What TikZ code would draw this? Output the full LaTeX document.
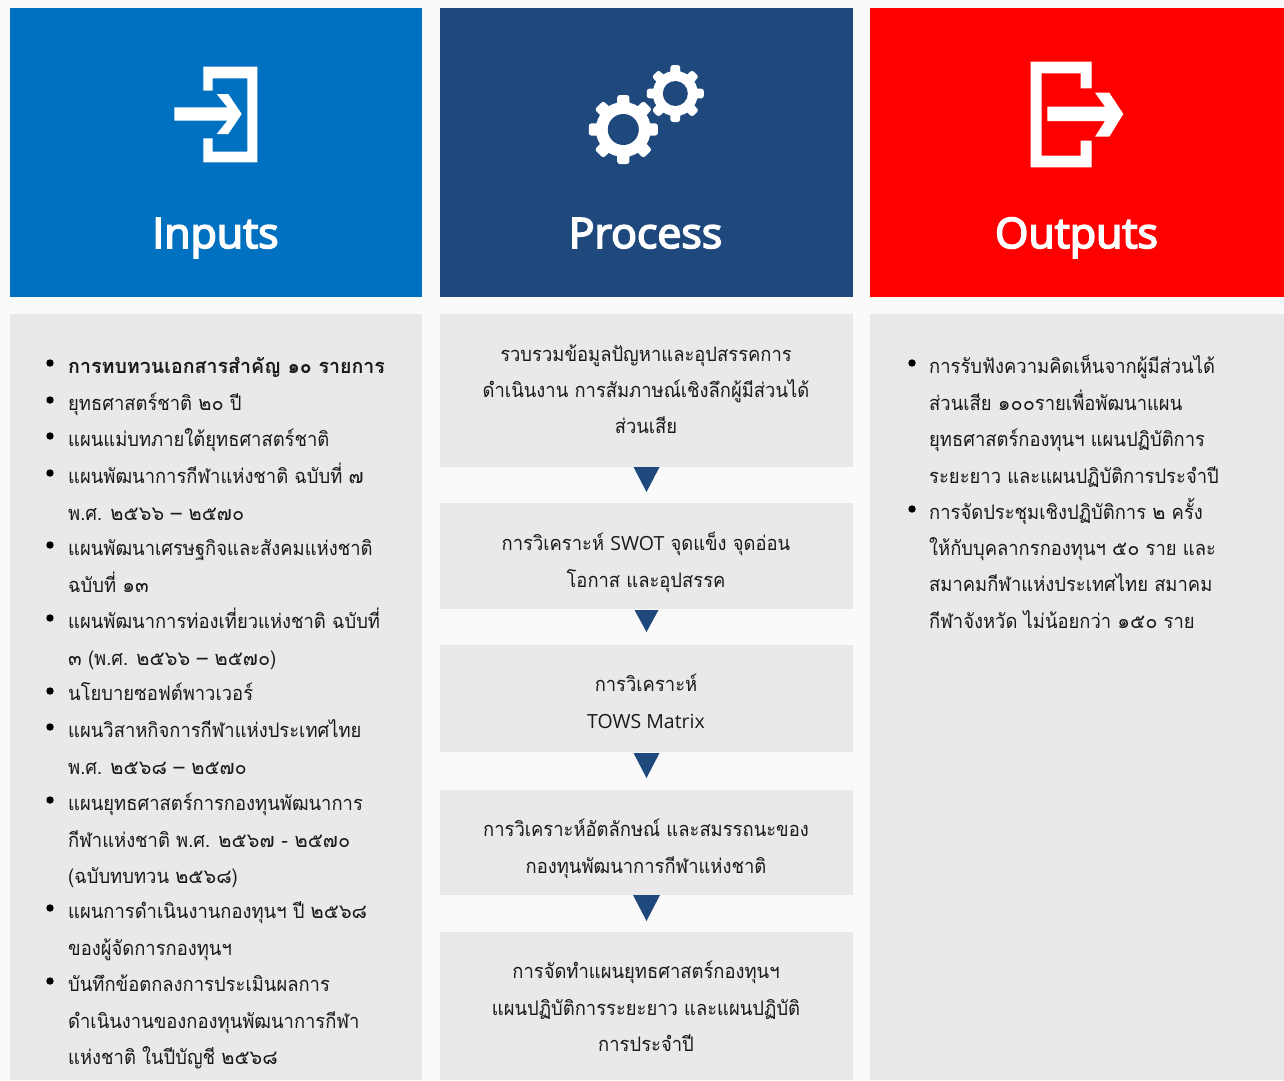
\documentclass[tikz,border=0pt]{standalone}
\usepackage{fontspec}
\usetikzlibrary{calc}
\setmainfont[Script=Thai,FakeStretch=0.92]{Loma}
\newfontfamily\numfont[Script=Thai]{Loma}
\newfontfamily\boldthai[Script=Thai,FakeStretch=0.98]{Loma Bold}
\newfontfamily\headfont[FakeBold=4,FakeStretch=1.02]{Open Sans}
\newfontfamily\latinfont{Open Sans}
\newcommand{\thnum}[1]{{\numfont #1}}
\newcommand{\lat}[1]{{\latinfont\fontsize{19.5}{19.5}\selectfont #1}}
\definecolor{pagebg}{HTML}{FAFAFA}
\definecolor{panel}{HTML}{E9E9E9}
\definecolor{inblue}{HTML}{0070C0}
\definecolor{navy}{HTML}{1F497D}
\definecolor{outred}{HTML}{FF0000}
\definecolor{ink}{HTML}{1A1A1A}
\tikzset{
  blockbox/.style={anchor=north west,inner sep=0pt,outer sep=0pt,draw=none},
  headbox/.style={blockbox,minimum height=289pt},
  panelbox/.style={blockbox,fill=panel},
  headtxt/.style={anchor=base,inner sep=0pt,text=white,font=\headfont\fontsize{42}{42}\selectfont},
  bodytxt/.style={anchor=base west,inner sep=0pt,text=ink,font=\fontsize{20}{20}\selectfont},
  midtxt/.style={anchor=base,inner sep=0pt,text=ink,font=\fontsize{20}{20}\selectfont},
  dotmark/.style={fill=black,draw=none},
  icon/.style={fill=white,draw=none},
  tri/.style={fill=navy,draw=none}
}
\begin{document}
\begin{tikzpicture}[x=1pt,y=-1pt]
\useasboundingbox (0,0) rectangle (1284,1080);
\fill[pagebg] (0,0) rectangle (1284,1080);
% headers
\node[headbox,fill=inblue,minimum width=412.5pt] (hin) at (9.7,8) {};
\node[headbox,fill=navy,minimum width=413pt] (hpr) at (440,8) {};
\node[headbox,fill=outred,minimum width=414pt] (hout) at (870,8) {};
\node[headtxt] (tin) at (215.5,248) {Inputs};
\node[headtxt] (tpr) at (645.5,248) {Process};
\node[headtxt] (tout) at (1076.5,248) {Outputs};
% panels
\node[panelbox,minimum width=412.5pt,minimum height=766pt] (pin) at (9.7,314) {};
\node[panelbox,minimum width=414pt,minimum height=766pt] (pout) at (870,314) {};
\node[panelbox,minimum width=413pt,minimum height=153pt] (b1) at (440,314) {};
\node[panelbox,minimum width=413pt,minimum height=106pt] (b2) at (440,503) {};
\node[panelbox,minimum width=413pt,minimum height=107pt] (b3) at (440,645) {};
\node[panelbox,minimum width=413pt,minimum height=105pt] (b4) at (440,790) {};
\node[panelbox,minimum width=413pt,minimum height=148pt] (b5) at (440,932) {};
% arrows between the process boxes
\fill[tri] (b1.south) ++(-13,0) -- ++(26,0) -- ++(-13,25) -- cycle;
\fill[tri] (b2.south) ++(-12,1) -- ++(24,0) -- ++(-12,22) -- cycle;
\fill[tri] (b3.south) ++(-13,1) -- ++(26,0) -- ++(-13,25) -- cycle;
\fill[tri] (b4.south) ++(-13.5,0) -- ++(27,0) -- ++(-13.5,26) -- cycle;
% input icon
\fill[icon] (203.3,66.7) -- (257.3,66.7) -- (257.3,162.3) -- (203.3,162.3) -- (203.3,138.3) -- (212.7,138.3) -- (212.7,151.7) -- (247.3,151.7) -- (247.3,78.3) -- (212.7,78.3) -- (212.7,90.7) -- (203.3,90.7) -- cycle;
\fill[icon] (174.3,107.3) -- (227.3,107.3) -- (216.7,94) -- (228.3,94) -- (241.7,114) -- (228.3,134) -- (216.7,134) -- (227.3,120.7) -- (174.3,120.7) -- cycle;
% output icon
\fill[icon] (1030.7,61.7) -- (1091.7,61.7) -- (1091.7,88.3) -- (1080.7,88.3) -- (1080.7,73.3) -- (1041.7,73.3) -- (1041.7,155.7) -- (1080.7,155.7) -- (1080.7,140.7) -- (1091.7,140.7) -- (1091.7,167.3) -- (1030.7,167.3) -- cycle;
\fill[icon] (1047.3,106.7) -- (1105,106.7) -- (1095,92.7) -- (1109.3,92.7) -- (1123.3,114) -- (1109.3,136.7) -- (1095,136.7) -- (1105,121) -- (1047.3,121) -- cycle;
% gears
\foreach \cx/\cy/\rb/\rt/\rh/\tw in {623.3/129.5/27.5/34.5/15.5/14, 675.3/93.5/22.5/28.5/12.5/11.5}{
  \fill[icon] (\cx,\cy) circle (\rb);
  \foreach \a in {0,45,...,315}{
    \fill[icon,rounded corners=2.5pt,rotate around={\a:(\cx,\cy)}] (\cx-\tw/2,\cy) -- (\cx-\tw/2+1,\cy-\rt) -- (\cx+\tw/2-1,\cy-\rt) -- (\cx+\tw/2,\cy) -- cycle;
  }
  \fill[navy] (\cx,\cy) circle (\rh);
}
% left list
\node[bodytxt,font=\boldthai\fontsize{20}{20}\selectfont] (l1) at (68,373) {การทบทวนเอกสารสำคัญ ๑๐ รายการ};
\foreach \i/\y/\t in {
 2/410/{ยุทธศาสตร์ชาติ \thnum{๒๐} ปี},
 3/446/{แผนแม่บทภายใต้ยุทธศาสตร์ชาติ},
 4/483/{แผนพัฒนาการกีฬาแห่งชาติ ฉบับที่ \thnum{๗}},
 5/520/{พ.ศ. \thnum{๒๕๖๖ – ๒๕๗๐}},
 6/555/{แผนพัฒนาเศรษฐกิจและสังคมแห่งชาติ},
 7/592/{ฉบับที่ \thnum{๑๓}},
 8/628/{แผนพัฒนาการท่องเที่ยวแห่งชาติ ฉบับที่},
 9/665/{\thnum{๓} (พ.ศ. \thnum{๒๕๖๖ – ๒๕๗๐})},
 10/700/{นโยบายซอฟต์พาวเวอร์},
 11/737/{แผนวิสาหกิจการกีฬาแห่งประเทศไทย},
 12/774/{พ.ศ. \thnum{๒๕๖๘ – ๒๕๗๐}},
 13/810/{แผนยุทธศาสตร์การกองทุนพัฒนาการ},
 14/847/{กีฬาแห่งชาติ พ.ศ. \thnum{๒๕๖๗ - ๒๕๗๐}},
 15/883/{(ฉบับทบทวน \thnum{๒๕๖๘})},
 16/918/{แผนการดำเนินงานกองทุนฯ ปี \thnum{๒๕๖๘}},
 17/955/{ของผู้จัดการกองทุนฯ},
 18/991/{บันทึกข้อตกลงการประเมินผลการ},
 19/1028/{ดำเนินงานของกองทุนพัฒนาการกีฬา},
 20/1064/{แห่งชาติ ในปีบัญชี \thnum{๒๕๖๘}}}{
  \node[bodytxt] (l\i) at (68,\y) {\t};
}
\foreach \y in {363,400,436,473,545,618,691,727,800,908,981}{
  \fill[dotmark] (50,\y) circle (3.7);
}
% right list
\foreach \i/\y/\t in {
 1/373/{การรับฟังความคิดเห็นจากผู้มีส่วนได้},
 2/410/{ส่วนเสีย \thnum{๑๐๐}รายเพื่อพัฒนาแผน},
 3/446/{ยุทธศาสตร์กองทุนฯ แผนปฏิบัติการ},
 4/483/{ระยะยาว และแผนปฏิบัติการประจำปี},
 5/519/{การจัดประชุมเชิงปฏิบัติการ \thnum{๒} ครั้ง},
 6/555/{ให้กับบุคลากรกองทุนฯ \thnum{๕๐} ราย และ},
 7/591/{สมาคมกีฬาแห่งประเทศไทย สมาคม},
 8/628/{กีฬาจังหวัด ไม่น้อยกว่า \thnum{๑๕๐} ราย}}{
  \node[bodytxt] (r\i) at (929,\y) {\t};
}
\foreach \y in {363,509}{
  \fill[dotmark] (912,\y) circle (3.7);
}
% middle text
\foreach \i/\y/\t in {
 1/361/{รวบรวมข้อมูลปัญหาและอุปสรรคการ},
 2/397/{ดำเนินงาน การสัมภาษณ์เชิงลึกผู้มีส่วนได้},
 3/433/{ส่วนเสีย},
 4/550/{การวิเคราะห์ \lat{SWOT} จุดแข็ง จุดอ่อน},
 5/587/{โอกาส และอุปสรรค},
 6/691/{การวิเคราะห์},
 7/728/{\lat{TOWS Matrix}},
 8/836/{การวิเคราะห์อัตลักษณ์ และสมรรถนะของ},
 9/873/{กองทุนพัฒนาการกีฬาแห่งชาติ},
 10/978/{การจัดทำแผนยุทธศาสตร์กองทุนฯ},
 11/1015/{แผนปฏิบัติการระยะยาว และแผนปฏิบัติ},
 12/1051/{การประจำปี}}{
  \node[midtxt] (m\i) at (646,\y) {\t};
}
\end{tikzpicture}
\end{document}
